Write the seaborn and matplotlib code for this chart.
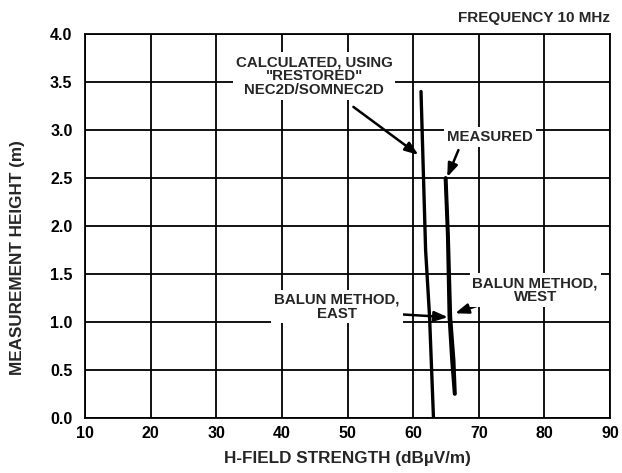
import matplotlib
matplotlib.use("Agg")
import matplotlib.pyplot as plt
import seaborn as sns
import pandas as pd

# Data
calc_x = [61.2, 61.9, 62.5, 63.1]
calc_y = [3.4, 1.75, 1.06, 0.0]
east_x = [64.9, 65.25, 65.5, 65.9, 66.3]
east_y = [2.5, 1.9, 1.05, 0.6, 0.25]
west_x = [65.0, 65.35, 65.7, 66.2, 66.4]
west_y = [2.5, 1.9, 1.05, 0.6, 0.25]

x_ticks = [10, 20, 30, 40, 50, 60, 70, 80, 90]
y_ticks = [0.0, 0.5, 1.0, 1.5, 2.0, 2.5, 3.0, 3.5, 4.0]

sns.set_style("white")
plt.rcParams['font.family'] = ['Liberation Sans', 'DejaVu Sans']
plt.rcParams['font.weight'] = 'bold'

fig = plt.figure(figsize=(6.22, 4.73), dpi=100)
ax = fig.add_axes([0.1367, 0.1163, 0.844, 0.812])

for xs, ys in [(calc_x, calc_y), (east_x, east_y), (west_x, west_y)]:
    df = pd.DataFrame({"x": xs, "y": ys})
    sns.lineplot(data=df, x="x", y="y", sort=False, ax=ax, color="black",
                 linewidth=2.4, estimator=None, zorder=3)

ax.set_xlim(10, 90)
ax.set_ylim(0, 4.0)
ax.set_xticks(x_ticks)
ax.set_yticks(y_ticks)
ax.set_xticklabels([str(v) for v in x_ticks], fontweight="bold")
ax.set_yticklabels([f"{v:.1f}" for v in y_ticks], fontweight="bold")
ax.grid(True, color="black", linewidth=1.3)
ax.set_axisbelow(True)
for s in ax.spines.values():
    s.set_color("black")
    s.set_linewidth(1.3)
ax.tick_params(axis="both", direction="out", width=1.2, color="black",
               labelsize=11.5, labelcolor="black")
ax.tick_params(axis="x", length=4, pad=2)
ax.tick_params(axis="y", length=6, pad=3)
ax.set_xlabel("H-FIELD STRENGTH (dBµV/m)", fontsize=12.3, fontweight="bold", labelpad=7)
ax.set_ylabel("MEASUREMENT HEIGHT (m)", fontsize=12.3, fontweight="bold")
ax.yaxis.set_label_coords(-0.115, 0.417)

box = dict(facecolor="white", edgecolor="none", pad=2)
aprops = dict(arrowstyle="-|>,head_length=0.8,head_width=0.3", color="black",
              linewidth=1.8, shrinkA=0, shrinkB=0)
fs = 10.8

ax.annotate("", xy=(60.8, 2.74), xytext=(50.9, 3.24), arrowprops=aprops, zorder=4)
ax.text(44.9, 3.56, "CALCULATED, USING\n\"RESTORED\"\nNEC2D/SOMNEC2D", ha="center",
        va="center", fontsize=fs, fontweight="bold", linespacing=1.0, bbox=box, zorder=5)

ax.annotate("", xy=(65.2, 2.51), xytext=(66.9, 2.79), arrowprops=aprops, zorder=4)
ax.text(71.7, 2.93, "MEASURED", ha="center", va="center", fontsize=fs,
        fontweight="bold", bbox=box, zorder=5)

ax.annotate("", xy=(65.3, 1.05), xytext=(53.0, 1.10), arrowprops=aprops, zorder=4)
ax.text(48.4, 1.16, "BALUN METHOD,\nEAST", ha="center", va="center", fontsize=fs,
        fontweight="bold", linespacing=1.0, bbox=box, zorder=5)

ax.annotate("", xy=(66.4, 1.09), xytext=(73.7, 1.26), arrowprops=aprops, zorder=4)
ax.text(78.6, 1.33, "BALUN METHOD,\nWEST", ha="center", va="center", fontsize=fs,
        fontweight="bold", linespacing=1.0, bbox=box, zorder=5)

fig.text(0.981, 0.963, "FREQUENCY 10 MHz", ha="right", va="center", fontsize=11,
         fontweight="bold")

fig.savefig("out.png", dpi=100)
